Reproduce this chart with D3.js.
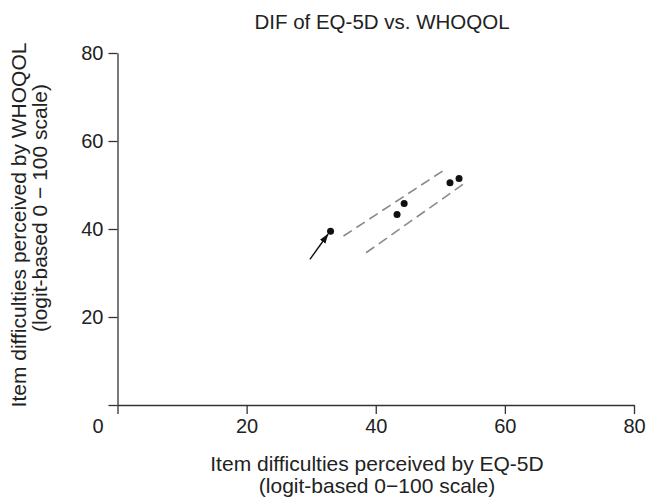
<!DOCTYPE html>
<html>
<head>
<meta charset="utf-8">
<script src="https://cdn.jsdelivr.net/npm/d3@7"></script>
<style>
  html, body { margin: 0; padding: 0; background: #fff; }
  svg { display: block; }
  text { font-family: "Liberation Sans", Arial, Helvetica, sans-serif; fill: #222; }
</style>
</head>
<body>
<svg id="chart" width="650" height="498"></svg>
<script>
// ---- data ----
const eq5d   = [33.0, 43.3, 44.4, 51.5, 52.9];   // x: EQ-5D item difficulties
const whoqol = [39.5, 43.3, 45.8, 50.5, 51.5];   // y: WHOQOL item difficulties
const upperBandX = [35.0, 51.0];
const upperBandY = [38.4, 53.8];
const lowerBandX = [38.5, 54.1];
const lowerBandY = [34.6, 50.75];
const arrowX = [29.8, 32.6];
const arrowY = [33.1, 38.8];
const xTicks = [0, 20, 40, 60, 80];
const yTicks = [0, 20, 40, 60, 80];
const titleText = "DIF of EQ-5D vs. WHOQOL";
const xLabel = ["Item difficulties perceived by EQ-5D", "(logit-based 0\u2212100 scale)"];
const yLabel = ["Item difficulties perceived by WHOQOL", "(logit-based 0 \u2212 100 scale)"];

// ---- layout ----
const svg = d3.select("#chart");
const x = d3.scaleLinear().domain([0, 80]).range([117.5, 634]);
const y = d3.scaleLinear().domain([0, 80]).range([405, 53]);
const axisColor = "#333";

svg.append("defs").append("marker")
  .attr("id", "arrowhead")
  .attr("viewBox", "0 0 12 8")
  .attr("refX", 11).attr("refY", 4)
  .attr("markerWidth", 10).attr("markerHeight", 7)
  .attr("markerUnits", "userSpaceOnUse")
  .attr("orient", "auto")
  .append("path").attr("d", "M0,0 L12,4 L0,8 z").attr("fill", "#111");

// x axis
const gx = svg.append("g").attr("transform", `translate(0,${y(0)})`)
  .call(d3.axisBottom(x).tickValues(xTicks).tickSizeInner(9).tickSizeOuter(0).tickPadding(5)
        .tickFormat(d3.format("d")));
gx.select(".domain").attr("stroke", axisColor).attr("stroke-width", 1.3);
gx.selectAll(".tick line").attr("stroke", axisColor).attr("stroke-width", 1.3);
gx.selectAll(".tick text").attr("font-size", 20).attr("fill", "#222")
  .attr("font-family", "Liberation Sans, Arial, sans-serif")
  .attr("dx", d => d === 0 ? -20 : 0);

// y axis
const gy = svg.append("g").attr("transform", `translate(${x(0)},0)`)
  .call(d3.axisLeft(y).tickValues(yTicks).tickSizeInner(9).tickSizeOuter(0).tickPadding(5)
        .tickFormat(d => d === 0 ? "" : d3.format("d")(d)));
gy.select(".domain").attr("stroke", axisColor).attr("stroke-width", 1.3);
gy.selectAll(".tick line").attr("stroke", axisColor).attr("stroke-width", 1.3);
gy.selectAll(".tick text").attr("font-size", 20).attr("fill", "#222")
  .attr("font-family", "Liberation Sans, Arial, sans-serif");

// dashed band lines
const bands = [
  {xs: upperBandX, ys: upperBandY},
  {xs: lowerBandX, ys: lowerBandY}
];
svg.selectAll("line.band").data(bands).enter().append("line")
  .attr("class", "band")
  .attr("x1", d => x(d.xs[0])).attr("y1", d => y(d.ys[0]))
  .attr("x2", d => x(d.xs[1])).attr("y2", d => y(d.ys[1]))
  .attr("stroke", "#8a8a8a").attr("stroke-width", 1.6)
  .attr("stroke-dasharray", "10,5.5");

// arrow
svg.append("line")
  .attr("x1", x(arrowX[0])).attr("y1", y(arrowY[0]))
  .attr("x2", x(arrowX[1])).attr("y2", y(arrowY[1]))
  .attr("stroke", "#111").attr("stroke-width", 1.4)
  .attr("marker-end", "url(#arrowhead)");

// points
svg.selectAll("circle.pt").data(eq5d.map((v, i) => [v, whoqol[i]])).enter()
  .append("circle").attr("class", "pt")
  .attr("cx", d => x(d[0])).attr("cy", d => y(d[1]))
  .attr("r", 3.5).attr("fill", "#111");

// title
svg.append("text").attr("x", 382).attr("y", 29)
  .attr("text-anchor", "middle").attr("font-size", 20.5).text(titleText);

// x label
svg.selectAll("text.xl").data(xLabel).enter().append("text")
  .attr("class", "xl")
  .attr("x", 377).attr("y", (d, i) => 471 + i * 22)
  .attr("text-anchor", "middle").attr("font-size", 21).text(d => d);

// y label
const yCenters = [225, 208];
const yBase = [26, 47];
svg.selectAll("text.yl").data(yLabel).enter().append("text")
  .attr("class", "yl")
  .attr("transform", (d, i) => `translate(${yBase[i]},${yCenters[i]}) rotate(-90)`)
  .attr("text-anchor", "middle").attr("font-size", 21).text(d => d);
</script>
</body>
</html>
